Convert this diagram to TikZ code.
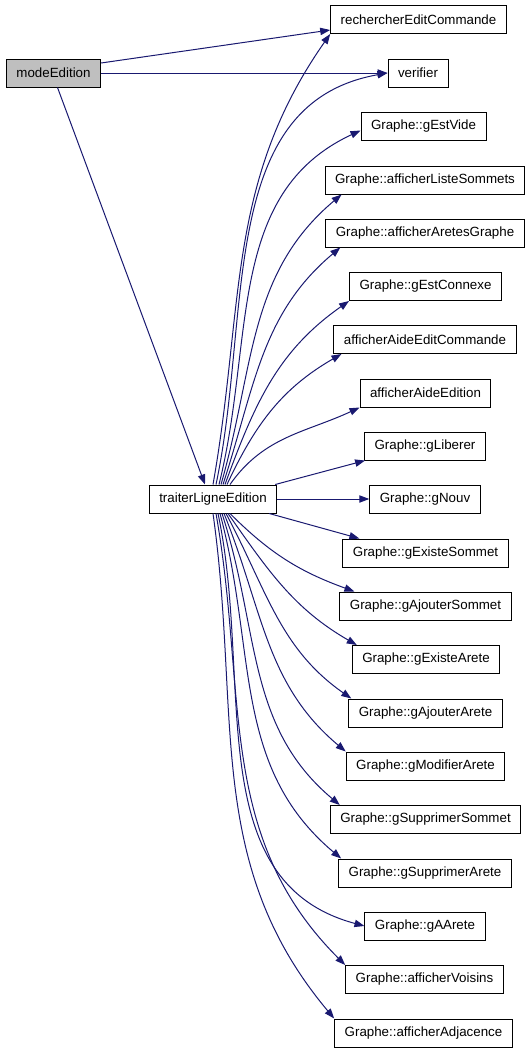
\documentclass[tikz,border=0pt]{standalone}
\usepackage{fontspec}
\setmainfont{Liberation Sans}
\usetikzlibrary{arrows.meta, positioning}

\definecolor{edgeblue}{HTML}{191970}
\definecolor{callergray}{HTML}{BFBFBF}

\begin{document}
\begin{tikzpicture}[
        x=0.75pt, y=0.75pt,
        func/.style={rectangle, draw=black, line width=0.75pt, fill=white, inner xsep=7.5pt, inner ysep=0pt, minimum height=21pt, font=\fontsize{10pt}{12pt}\selectfont},
        caller/.style={func, fill=callergray},
        arrow/.style={draw=edgeblue, line width=0.75pt, -{Triangle[length=7.5pt, width=5.5pt]}, edgeblue}
    ]
    \useasboundingbox (0,0) rectangle (531,-1053);

    % Caller
    \node [caller] (mode) at (53.5,-73) {modeEdition};
    \node [func] (tle) at (213,-499) {traiterLigneEdition};

    % Callees
    \node [func] (rech) at (418.5,-19.5) {rechercherEditCommande};
    \node [func] (verif) at (418,-73) {verifier};
    \node [func] (vide) at (423.5,-126.5) {Graphe::gEstVide};
    \node [func] (liste) at (425,-180) {Graphe::afficherListeSommets};
    \node [func] (aretes) at (425,-233) {Graphe::afficherAretesGraphe};
    \node [func] (connexe) at (425.5,-286.5) {Graphe::gEstConnexe};
    \node [func] (aidecmd) at (425,-339.5) {afficherAideEditCommande};
    \node [func] (aide) at (425.5,-393) {afficherAideEdition};
    \node [func] (liberer) at (425,-446) {Graphe::gLiberer};
    \node [func] (nouv) at (425,-499) {Graphe::gNouv};
    \node [func] (existS) at (425.5,-553) {Graphe::gExisteSommet};
    \node [func] (ajoutS) at (425.5,-606) {Graphe::gAjouterSommet};
    \node [func] (existA) at (426,-659.5) {Graphe::gExisteArete};
    \node [func] (ajoutA) at (425.5,-713) {Graphe::gAjouterArete};
    \node [func] (modifA) at (425.5,-766) {Graphe::gModifierArete};
    \node [func] (supprS) at (425.5,-819.5) {Graphe::gSupprimerSommet};
    \node [func] (supprA) at (425,-873) {Graphe::gSupprimerArete};
    \node [func] (aarete) at (425,-926) {Graphe::gAArete};
    \node [func] (voisins) at (424.5,-979.5) {Graphe::afficherVoisins};
    \node [func] (adj) at (423.5,-1033) {Graphe::afficherAdjacence};

    % modeEdition calls
    \draw [arrow] ([shift={(0,10)}]mode.east) -- ([shift={(0,-10.5)}]rech.west);
    \draw [arrow] (mode.east) -- (verif.west);
    \draw [arrow] ([shift={(4,0)}]mode.south) -- ([shift={(-8,0)}]tle.north);

    % traiterLigneEdition calls, upper fan
    \draw [arrow] (tle.north) to[out=80, in=235] (rech.south west);
    \draw [arrow] ([shift={(3,0)}]tle.north) to[out=78, in=190] (verif.west);
    \draw [arrow] ([shift={(6,0)}]tle.north) to[out=76, in=205] ([shift={(0,-4)}]vide.west);
    \draw [arrow] ([shift={(8,0)}]tle.north) to[out=74, in=220] ([shift={(17,0)}]liste.south west);
    \draw [arrow] ([shift={(10,0)}]tle.north) to[out=72, in=220] ([shift={(15,0)}]aretes.south west);
    \draw [arrow] ([shift={(12,0)}]tle.north) to[out=70, in=215] (connexe.south west);
    \draw [arrow] ([shift={(14,0)}]tle.north) to[out=65, in=210] ([shift={(8,0)}]aidecmd.south west);
    \draw [arrow] ([shift={(17,0)}]tle.north) to[out=55, in=205] (aide.south west);
    \draw [arrow] ([shift={(-2,0)}]tle.north east) -- ([shift={(1,0)}]liberer.south west);
    \draw [arrow] (tle.east) -- (nouv.west);
    \draw [arrow] ([shift={(-8,0)}]tle.south east) -- ([shift={(17,0)}]existS.north west);

    % traiterLigneEdition calls, lower fan
    \draw [arrow] ([shift={(17,0)}]tle.south) to[out=-45, in=160] ([shift={(15,0)}]ajoutS.north west);
    \draw [arrow] ([shift={(15,0)}]tle.south) to[out=-55, in=150] ([shift={(5,0)}]existA.north west);
    \draw [arrow] ([shift={(13,0)}]tle.south) to[out=-62, in=145] ([shift={(3,0)}]ajoutA.north west);
    \draw [arrow] ([shift={(11,0)}]tle.south) to[out=-68, in=140] (modifA.north west);
    \draw [arrow] ([shift={(9,0)}]tle.south) to[out=-72, in=140] ([shift={(10,0)}]supprS.north west);
    \draw [arrow] ([shift={(7,0)}]tle.south) to[out=-75, in=140] ([shift={(3,0)}]supprA.north west);
    \draw [arrow] ([shift={(5,0)}]tle.south) to[out=-78, in=165] (aarete.west);
    \draw [arrow] ([shift={(3,0)}]tle.south) to[out=-80, in=135] (voisins.north west);
    \draw [arrow] (tle.south) to[out=-82, in=130] (adj.north west);

\end{tikzpicture}
\end{document}
